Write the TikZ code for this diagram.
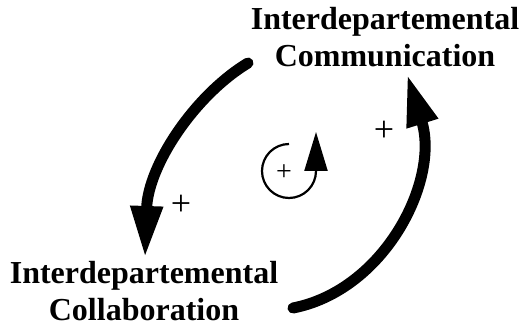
\documentclass[tikz,border=0pt]{standalone}
\usepackage{fontspec}
\setmainfont{Liberation Serif}
\usetikzlibrary{arrows.meta}
\begin{document}
\begin{tikzpicture}[x=1pt,y=1pt,
  label/.style={font=\bfseries\fontsize{32}{36.5}\selectfont, align=center, inner sep=0pt, anchor=north},
  bigarrow/.style={line width=11pt, line cap=round, -{Triangle[length=52pt,width=30pt]}},
  loop/.style={line width=2.2pt, -{Triangle[length=39pt,width=23pt]}},
  sign/.style={font=\fontsize{#1}{#1}\selectfont, inner sep=0pt}]
\useasboundingbox (0,0) rectangle (531,330);
\node[label] (comm) at (385,322.5) {Interdepartemental\\Communication};
\node[label] (coll) at (144,68.5) {Interdepartemental\\Collaboration};
% left arrow: Communication -> Collaboration
\coordinate (l1) at (248,267);
\coordinate (l2) at (145,72);
\draw[bigarrow] (l1) .. controls (195,235) and (148,165) .. (l2);
% right arrow: Collaboration -> Communication
\coordinate (r1) at (293,22);
\coordinate (r2) at (407,256);
\draw[bigarrow] (r1) .. controls (385,40) and (440,150) .. (r2);
% self loop
\coordinate (c0) at (289,159);
\draw[loop] ([shift={(90:27)}]c0) arc[start angle=90,end angle=360,radius=27] -- ++(0,39);
% plus signs
\node[sign=36] (p1) at (181,125) {+};
\node[sign=36] (p2) at (384,199) {+};
\node[sign=28] (p3) at (284,157) {+};
\end{tikzpicture}
\end{document}
